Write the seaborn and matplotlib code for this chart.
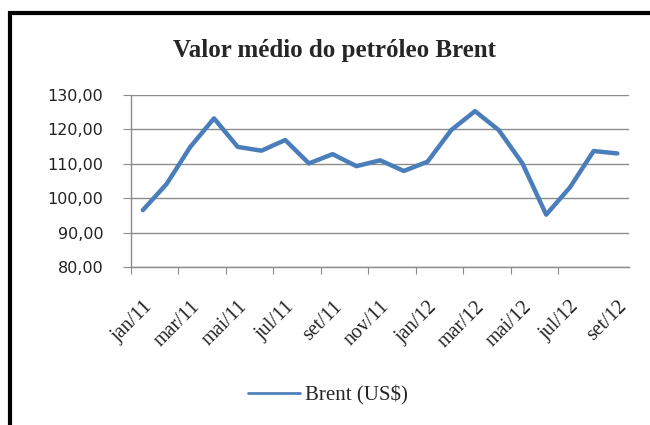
import matplotlib
matplotlib.use("Agg")
import matplotlib.pyplot as plt
import seaborn as sns
import pandas as pd
from matplotlib.patches import Rectangle

# dados (média mensal Brent, US$)
meses = ['jan/11', 'fev/11', 'mar/11', 'abr/11', 'mai/11', 'jun/11', 'jul/11',
         'ago/11', 'set/11', 'out/11', 'nov/11', 'dez/11', 'jan/12', 'fev/12',
         'mar/12', 'abr/12', 'mai/12', 'jun/12', 'jul/12', 'ago/12', 'set/12']
brent = [96.5, 104.1, 114.9, 123.2, 114.9, 113.8, 116.9, 110.1, 112.8, 109.3,
         111.0, 107.9, 110.6, 119.8, 125.3, 119.8, 110.1, 95.2, 103.1, 113.7, 113.0]
yticks = [80, 90, 100, 110, 120, 130]

df = pd.DataFrame({'mes': range(len(meses)), 'valor': brent})

sns.set_style("white")
plt.rcParams['font.family'] = ['Liberation Serif', 'DejaVu Serif']

fig = plt.figure(figsize=(6.5, 4.25), dpi=100)
ax = fig.add_axes([0.2015, 0.372, 0.7665, 0.4045])

sns.lineplot(data=df, x='mes', y='valor', ax=ax, color='#4A7EBB',
             linewidth=3.2, label='Brent (US$)')

# eixo y
ax.set_ylim(80, 130)
ax.set_yticks(yticks)
ax.set_yticklabels([f"{v:.2f}".replace('.', ',') for v in yticks], fontsize=11.5,
                   family='DejaVu Sans', color='#222222')
ax.yaxis.grid(True, color='#8C8C8C', linewidth=1)
ax.set_axisbelow(True)

# eixo x: marcas nas divisões, rótulos de dois em dois meses
ax.set_xlim(-0.5, len(meses) - 0.5)
ax.set_xticks([i - 0.5 for i in range(0, len(meses) - 1, 2)])
ax.set_xticklabels([])
ax.set_xticks(range(0, len(meses), 2), minor=True)
ax.set_xticklabels(meses[::2], minor=True, rotation=45, ha='right',
                   rotation_mode='anchor', fontsize=14.5)
ax.tick_params(axis='x', which='major', direction='out', length=5,
               color='#8C8C8C', bottom=True)
ax.tick_params(axis='x', which='minor', length=0, pad=22)
ax.tick_params(axis='y', direction='out', length=6, color='#8C8C8C', left=True, pad=14)
ax.set_xlabel('')
ax.set_ylabel('')

for s in ['top', 'right']:
    ax.spines[s].set_visible(False)
for s in ['left', 'bottom']:
    ax.spines[s].set_color('#8C8C8C')
    ax.spines[s].set_linewidth(1)

fig.text(0.514, 1 - 50 / 425, 'Valor médio do petróleo Brent', ha='center',
         va='center', fontsize=18, fontweight='bold')

ax.legend(loc='center', bbox_to_anchor=(0.505, 0.07), bbox_transform=fig.transFigure,
          frameon=False, fontsize=15, handlelength=2.5, handletextpad=0.25)
ax.get_legend().get_lines()[0].set_linewidth(2)
ax.get_legend().get_lines()[0].set_color('#4F81BD')

# moldura preta do gráfico
fig.patches.append(Rectangle((10 / 650, -0.2), 1.2, 1.2 - 13 / 425,
                             transform=fig.transFigure, fill=False,
                             edgecolor='black', linewidth=3))

fig.savefig('out.png', dpi=100)
